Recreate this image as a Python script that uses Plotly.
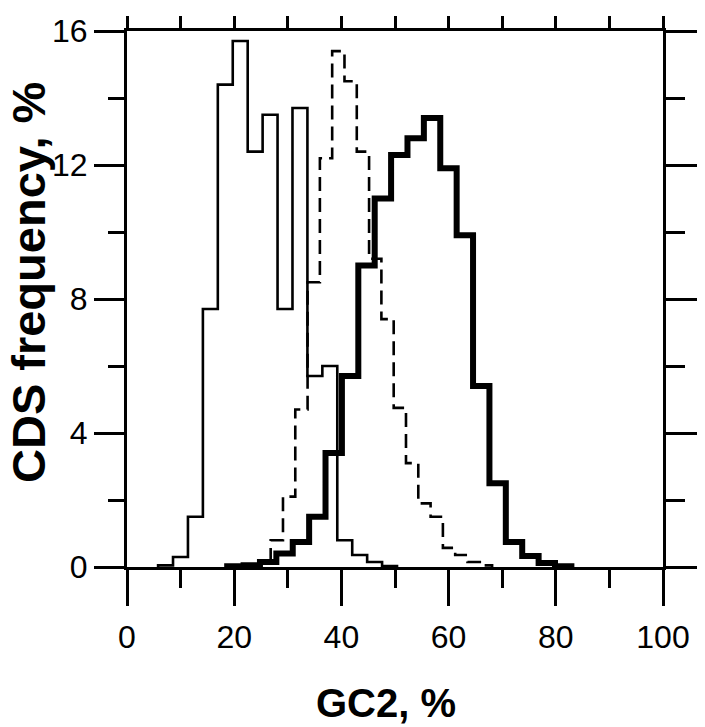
import plotly.graph_objects as go

# ---- data (GC2 % bins, CDS frequency %) ----
thin_start = 5.8
thin_width = 2.786
thin_vals = [0.05, 0.3, 1.5, 7.7, 14.4, 15.7, 12.4, 13.5, 7.7, 13.7, 5.7, 6.0, 0.8, 0.36, 0.15, 0.03]

dash_start = 19.92
dash_width = 2.295
dash_vals = [0.05, 0.05, 0.2, 0.8, 2.1, 4.7, 8.5, 12.2, 15.4, 14.5, 12.4, 9.2, 7.4, 4.75, 3.1, 1.9, 1.5,
             0.57, 0.36, 0.15, 0.05]

thick_start = 18.69
thick_width = 3.058
thick_vals = [0.02, 0.05, 0.15, 0.4, 0.75, 1.5, 3.4, 5.7, 9.0, 11.0, 12.3, 12.8, 13.4, 11.9, 9.9, 5.4,
              2.5, 0.75, 0.33, 0.12, 0.02]

x_major = [0, 20, 40, 60, 80, 100]
y_major = [0, 4, 8, 12, 16]


def step_xy(start, width, vals):
    edges = [start + width * i for i in range(len(vals) + 1)]
    xs = [edges[0]] + edges
    ys = [0] + list(vals) + [0]
    return xs, ys


fig = go.Figure()
for (s, w, v, lw, dash) in [
    (thin_start, thin_width, thin_vals, 2.6, "solid"),
    (dash_start, dash_width, dash_vals, 2.6, "14px,7px"),
    (thick_start, thick_width, thick_vals, 6, "solid"),
]:
    xs, ys = step_xy(s, w, v)
    fig.add_trace(go.Scatter(x=xs, y=ys, mode="lines", line=dict(color="black", width=lw, dash=dash, shape="hv"),
                             showlegend=False, hoverinfo="skip"))

# dummy trace to register the mirrored axes
fig.add_trace(go.Scatter(x=[50], y=[8], xaxis="x2", yaxis="y2", mode="markers", marker=dict(opacity=0),
                         showlegend=False, hoverinfo="skip"))

FONT = "Liberation Sans, Arial, sans-serif"
axis_common = dict(showgrid=False, zeroline=False, showline=True, linecolor="black", linewidth=3,
                   ticks="outside", tickcolor="black", tickwidth=3, automargin=False)

fig.update_layout(
    width=705, height=727,
    margin=dict(l=119, r=50, t=23, b=168),
    paper_bgcolor="white", plot_bgcolor="white",
    font=dict(family=FONT, color="black", size=32),
    xaxis=dict(range=[0, 100], tickmode="array", tickvals=x_major, ticklen=36,
               minor=dict(tickmode="linear", tick0=0, dtick=10, ticklen=18, tickwidth=3, tickcolor="black",
                          ticks="outside"),
               tickfont=dict(size=32), ticklabelstandoff=4, **axis_common),
    yaxis=dict(range=[0, 16], tickmode="array", tickvals=y_major, ticklen=30,
               minor=dict(tickmode="linear", tick0=0, dtick=2, ticklen=16, tickwidth=3, tickcolor="black",
                          ticks="outside"),
               tickfont=dict(size=32), ticklabelstandoff=0, **axis_common),
    xaxis2=dict(range=[0, 100], overlaying="x", side="top", anchor="y", tickmode="linear", tick0=0, dtick=10,
                ticklen=12, showticklabels=False, **axis_common),
    yaxis2=dict(range=[0, 16], overlaying="y", side="right", anchor="x", tickmode="array", tickvals=y_major,
                ticklen=40, showticklabels=False,
                minor=dict(tickmode="linear", tick0=0, dtick=2, ticklen=19, tickwidth=3, tickcolor="black",
                           ticks="outside"),
                **axis_common),
    shapes=[
        dict(type="line", xref="x", yref="y", x0=0, x1=0, ysizemode="pixel", yanchor=0, y0=0, y1=-43,
             line=dict(color="black", width=3)),
        dict(type="line", xref="x", yref="y", x0=0, x1=0, ysizemode="pixel", yanchor=16, y0=0, y1=30,
             line=dict(color="black", width=3)),
        dict(type="line", xref="x", yref="y", x0=100, x1=100, ysizemode="pixel", yanchor=16, y0=0, y1=30,
             line=dict(color="black", width=3)),
    ],
    annotations=[
        dict(text="<b>CDS frequency, %</b>", xref="paper", yref="paper", x=(28 - 127) / 536,
             y=(567 - 283) / 536, xanchor="center", yanchor="middle", textangle=-90, showarrow=False,
             font=dict(size=47, family=FONT)),
        dict(text="<b>GC2, %</b>", xref="paper", yref="paper", x=(386 - 127) / 536, y=(567 - 703) / 536,
             xanchor="center", yanchor="middle", showarrow=False, font=dict(size=40, family=FONT)),
    ],
)

fig.write_html("out.html")
